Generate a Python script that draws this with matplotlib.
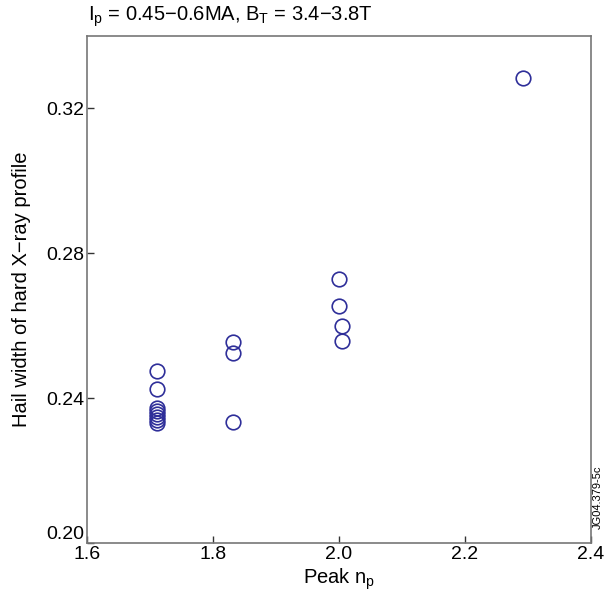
import matplotlib
matplotlib.use("Agg")
import matplotlib.pyplot as plt

plt.rcParams['font.family'] = ['Liberation Sans', 'DejaVu Sans']
plt.rcParams['mathtext.fontset'] = 'custom'
plt.rcParams['mathtext.rm'] = 'Liberation Sans'
plt.rcParams['mathtext.it'] = 'Liberation Sans:italic'
plt.rcParams['mathtext.default'] = 'regular'

peak_np = [1.711, 1.711, 1.711, 1.711, 1.711, 1.711, 1.711, 1.711,
           1.832, 1.832, 1.832,
           2.000, 2.000, 2.005, 2.005,
           2.292]
half_width = [0.2476, 0.2425, 0.2373, 0.2364, 0.2356, 0.2348, 0.2340, 0.2331,
              0.2555, 0.2525, 0.2334,
              0.2729, 0.2654, 0.2599, 0.2558,
              0.3284]
xticks = [1.6, 1.8, 2.0, 2.2, 2.4]
yticks = [0.20, 0.24, 0.28, 0.32]

fig = plt.figure(figsize=(6.15, 5.94), dpi=100)
ax = fig.add_axes([87/615, 51/594, 504/615, 507/594])
ax.plot(peak_np, half_width, linestyle='none', marker='o', markersize=10.5,
        markerfacecolor='none', markeredgecolor='#2e2e99', markeredgewidth=1.2)
ax.set_xlim(1.6, 2.4)
ax.set_ylim(0.20, 0.34)
ax.set_xticks(xticks)
ax.set_xticklabels(['1.6', '1.8', '2.0', '2.2', '2.4'])
ax.set_yticks(yticks)
ax.set_yticklabels(['0.20', '0.24', '0.28', '0.32'])
ax.tick_params(direction='in', length=5, width=1, color='#333333',
               labelsize=14, pad=2, top=False, right=False)
ax.get_yticklabels()[0].set_va('bottom')
for s in ax.spines.values():
    s.set_color('#777777')
    s.set_linewidth(1.2)
ax.set_xlabel('Peak n$_p$', fontsize=14.5, labelpad=3)
ax.set_ylabel('Hail width of hard X\u2212ray profile', fontsize=14.5, labelpad=11)
fig.text(88/615, 1 - 17/594, 'I$_p$ = 0.45\u22120.6MA, B$_T$ = 3.4\u22123.8T',
         fontsize=14.5, ha='left', va='center')
fig.text(598/615, 1 - 497/594, 'JG04.379-5c', fontsize=8, rotation=90,
         ha='center', va='center')
fig.savefig('out.png', dpi=100)
